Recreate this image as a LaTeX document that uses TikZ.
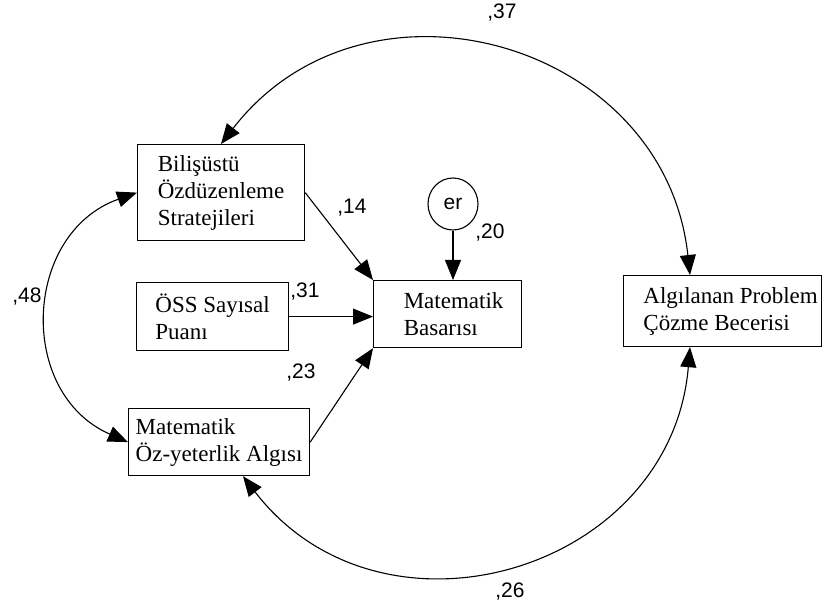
\documentclass[tikz,border=0pt]{standalone}
\usepackage{fontspec}
\setmainfont{Liberation Serif}
\newfontfamily\lblfont{Liberation Sans}
\usetikzlibrary{arrows.meta,shapes.geometric}
\begin{document}
\begin{tikzpicture}[x=1pt,y=-1pt,
  box/.style={draw, line width=1.2pt, anchor=north west, align=left,
    inner sep=0pt, font=\fontsize{23}{27}\selectfont},
  coef/.style={font=\lblfont\fontsize{21}{24}\selectfont, inner sep=0pt},
  link/.style={line width=1.1pt, -{Triangle[length=20pt,width=16pt]}},
  both/.style={line width=1.1pt, {Triangle[length=20pt,width=16pt]}-{Triangle[length=20pt,width=16pt]}}]
\useasboundingbox (0,0) rectangle (822,612);

% observed variables
\node[box, minimum width=167pt, minimum height=96pt] (b1) at (137,144)
  {Bilişüstü\\Özdüzenleme\\Stratejileri};
\node[box, minimum width=152pt, minimum height=68pt] (b2) at (136,282)
  {ÖSS Sayısal\\Puanı};
\node[box, minimum width=181pt, minimum height=67pt] (b3) at (128,408)
  {Matematik\\Öz-yeterlik Algısı};
\node[box, minimum width=148pt, minimum height=67pt] (b4) at (373,280)
  {\hspace*{12pt}Matematik\\\hspace*{12pt}Basarısı};
\node[box, minimum width=198pt, minimum height=71pt] (b5) at (623,275)
  {\hspace*{16pt}Algılanan Problem\\\hspace*{16pt}Çözme Becerisi};

% error term
\node[draw, ellipse, line width=1.1pt, minimum width=50pt, minimum height=52pt,
  inner sep=0pt, font=\lblfont\fontsize{21}{24}\selectfont] (er) at (453,204) {er};

% direct paths
\draw[link] (b1.east) -- (b4.north west);
\draw[link] (b2.east) -- (b2.east -| b4.west);
\draw[link] (b3.east) -- (b4.south west);
\draw[link] (er.south) -- (er.south |- b4.north);

% covariances (circular arcs as cubic curves)
\draw[both] (b1.west) .. controls (22.8,233.1) and (16.6,393.3) .. (b3.west);
\draw[both] ([xshift=84pt]b1.north west) .. controls (366,-43.5) and (664.8,41.4) .. ([xshift=67pt]b5.north west);
\draw[both] ([xshift=115pt]b3.south west) .. controls (381.7,656.7) and (671,572.2) .. ([xshift=67pt]b5.south west);

% coefficients
\node[coef] (c37) at (502,13) {,37};
\node[coef] (c26) at (510,592) {,26};
\node[coef] (c48) at (27,297) {,48};
\node[coef] (c14) at (352,208) {,14};
\node[coef] (c31) at (305,292) {,31};
\node[coef] (c23) at (301,373) {,23};
\node[coef] (c20) at (490,233) {,20};
\end{tikzpicture}
\end{document}
